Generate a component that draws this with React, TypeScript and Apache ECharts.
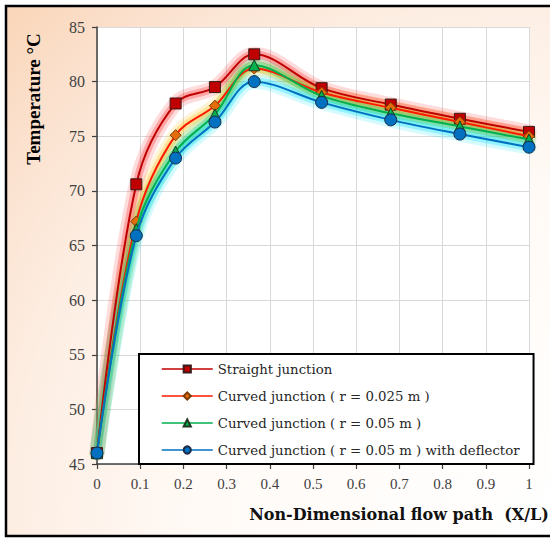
import React, { useEffect, useRef } from "react";
import * as echarts from "echarts";

// Non-dimensional position along the flow path (X/L)
const flowPath = [0, 0.091, 0.182, 0.273, 0.364, 0.52, 0.68, 0.84, 1.0];

// Temperature (°C) for each junction geometry
const straightJunction = [46.0, 70.6, 78.0, 79.5, 82.5, 79.4, 77.9, 76.6, 75.4];
const curved025 = [46.0, 67.2, 75.1, 77.8, 81.2, 79.0, 77.6, 76.3, 75.0];
const curved05 = [46.0, 66.5, 73.6, 77.0, 81.5, 78.7, 77.1, 75.9, 74.7];
const curved05Deflector = [46.0, 65.9, 73.0, 76.3, 80.0, 78.1, 76.5, 75.2, 74.0];

const seriesNames = [
  "Straight junction",
  "Curved junction ( r = 0.025 m )",
  "Curved junction ( r = 0.05 m )",
  "Curved junction ( r = 0.05 m ) with deflector",
];

const yTicks = { min: 45, max: 85, interval: 5 };
const xTicks = { min: 0, max: 1, interval: 0.1 };

const pair = (ys: number[]) => flowPath.map((x, i) => [x, ys[i]]);

const SMOOTH = 0.35;

export default function App() {
  const ref = useRef<HTMLDivElement>(null);

  useEffect(() => {
    if (!ref.current) return;
    const chart = echarts.init(ref.current, null, { renderer: "svg" });

    const styles = [
      { data: straightJunction, line: "#c00000", fill: "#c00000", border: "#3a1a1a", glow: [255, 40, 40], symbol: "rect", size: 11 },
      { data: curved025, line: "#ff1a00", fill: "#e46c0a", border: "#7a3c08", glow: [255, 185, 0], symbol: "diamond", size: 11 },
      { data: curved05, line: "#00b050", fill: "#00b050", border: "#1f3a1f", glow: [0, 200, 90], symbol: "triangle", size: 11 },
      { data: curved05Deflector, line: "#0070c0", fill: "#0070c0", border: "#1a2a44", glow: [0, 230, 255], symbol: "circle", size: 12 },
    ];

    const rgba = (c: number[], a: number) => `rgba(${c[0]},${c[1]},${c[2]},${a})`;

    // soft coloured halo under each curve: a wide faint pass and a narrower denser one
    const haloPasses = [
      { width: 15, alpha: 0.16 },
      { width: 8, alpha: 0.3 },
    ];
    const glowSeries = haloPasses.flatMap((pass) =>
      styles.map((s, i) => ({
        name: `${seriesNames[i]} halo ${pass.width}`,
        type: "line",
        data: pair(s.data),
        smooth: SMOOTH,
        symbol: "none",
        silent: true,
        lineStyle: {
          color: rgba(s.glow, pass.alpha),
          width: pass.width,
          cap: "round",
          join: "round",
        },
        emphasis: { disabled: true },
        z: 1,
      }))
    );

    const mainSeries = styles.map((s, i) => ({
      name: seriesNames[i],
      type: "line",
      data: pair(s.data),
      smooth: SMOOTH,
      symbol: s.symbol,
      symbolSize: s.size,
      lineStyle: { color: s.line, width: 2 },
      itemStyle: {
        color: s.fill,
        borderColor: s.border,
        borderWidth: 1,
      },
      emphasis: { disabled: true },
      z: 2 + i,
    }));

    chart.setOption({
      animation: false,
      backgroundColor: "#ffffff",
      graphic: [
        {
          type: "rect",
          z: -10,
          shape: { x: 6, y: 6, width: 550, height: 530 },
          style: {
            fill: {
              type: "radial",
              x: 550,
              y: 538,
              r: 790,
              global: true,
              colorStops: [
                { offset: 0, color: "#ffffff" },
                { offset: 0.45, color: "#fffaf6" },
                { offset: 0.68, color: "#fdeee3" },
                { offset: 0.85, color: "#fbe0cc" },
                { offset: 1, color: "#f9d2b1" },
              ],
            },
            stroke: "#000000",
            lineWidth: 2.5,
          },
          silent: true,
        },
        {
          type: "text",
          x: 33,
          y: 99,
          rotation: Math.PI / 2,
          z: 10,
          style: {
            text: "Temperature °C",
            font: 'bold 19px "Liberation Serif"',
            fill: "#000000",
            align: "center",
            verticalAlign: "middle",
            textAlign: "center",
            textVerticalAlign: "middle",
          },
        },
        {
          type: "text",
          x: 399,
          y: 514,
          z: 10,
          style: {
            text: "Non-Dimensional flow path  (X/L)",
            font: 'bold 16px "DejaVu Serif"',
            fill: "#111111",
            align: "center",
            verticalAlign: "middle",
            textAlign: "center",
            textVerticalAlign: "middle",
          },
        },
      ],
      grid: {
        left: 97,
        top: 27,
        right: 21,
        bottom: 74,
        show: true,
        backgroundColor: "#ffffff",
        borderWidth: 0,
      },
      xAxis: {
        type: "value",
        min: xTicks.min,
        max: xTicks.max,
        interval: xTicks.interval,
        axisLine: { show: true, onZero: false, lineStyle: { color: "#404040", width: 1.5 } },
        axisTick: { show: true, inside: false, length: 5, lineStyle: { color: "#404040", width: 1.2 } },
        axisLabel: {
          margin: 12,
          fontFamily: "Liberation Serif",
          fontSize: 15,
          color: "#404040",
        },
        splitLine: { show: true, lineStyle: { color: "#d9d9d9", width: 1 } },
      },
      yAxis: {
        type: "value",
        min: yTicks.min,
        max: yTicks.max,
        interval: yTicks.interval,
        axisLine: { show: true, onZero: false, lineStyle: { color: "#404040", width: 1.5 } },
        axisTick: { show: true, inside: false, length: 5, lineStyle: { color: "#404040", width: 1.2 } },
        axisLabel: {
          margin: 12,
          fontFamily: "Liberation Serif",
          fontSize: 16,
          color: "#404040",
        },
        splitLine: { show: true, lineStyle: { color: "#d9d9d9", width: 1 } },
      },
      legend: {
        show: true,
        orient: "vertical",
        left: 139,
        top: 354,
        backgroundColor: "#ffffff",
        borderColor: "#000000",
        borderWidth: 2,
        borderRadius: 0,
        padding: [8, 14, 7, 22],
        itemGap: 13,
        itemWidth: 51,
        itemHeight: 9,
        lineStyle: { width: 1.5 },
        textStyle: {
          fontFamily: "DejaVu Serif",
          fontSize: 13.3,
          color: "#262626",
          lineHeight: 14,
          padding: [0, 0, 0, 0],
        },
        selectedMode: false,
        data: seriesNames,
        z: 20,
      },
      series: [...glowSeries, ...mainSeries],
    });

    return () => chart.dispose();
  }, []);

  return (
    <div
      ref={ref}
      style={{ position: "absolute", left: 0, top: 0, width: 550, height: 538 }}
    />
  );
}
